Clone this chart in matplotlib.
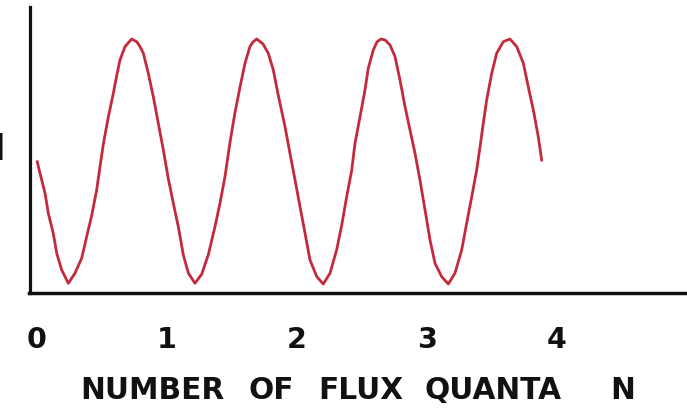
import matplotlib
matplotlib.use("Agg")
import matplotlib.pyplot as plt

# Critical current versus applied flux (in flux quanta), arbitrary current units
flux_n = [
    0.002, 0.023, 0.062, 0.087, 0.125, 0.152, 0.190, 0.241, 0.292, 0.344,
    0.382, 0.421, 0.459, 0.485, 0.510, 0.548, 0.587, 0.613, 0.638, 0.677, 0.728,
    0.769, 0.792, 0.818, 0.856, 0.895, 0.933, 0.972, 1.010, 1.048, 1.087, 1.125,
    1.164, 1.215, 1.267, 1.318, 1.369, 1.408, 1.446, 1.485, 1.523, 1.562, 1.600,
    1.638, 1.662, 1.690, 1.738, 1.779, 1.818, 1.856, 1.908, 1.946, 1.985, 2.023,
    2.062, 2.100, 2.152, 2.202, 2.254, 2.305, 2.344, 2.382, 2.421, 2.446, 2.485,
    2.523, 2.548, 2.587, 2.615, 2.646, 2.677, 2.715, 2.754, 2.792, 2.831, 2.869,
    2.908, 2.946, 2.985, 3.023, 3.062, 3.113, 3.164, 3.215, 3.267, 3.305, 3.344,
    3.382, 3.408, 3.433, 3.459, 3.498, 3.536, 3.587, 3.638, 3.690, 3.741, 3.779,
    3.818, 3.856, 3.882,
]
current = [
    0.499, 0.452, 0.370, 0.289, 0.207, 0.125, 0.057, 0.003, 0.044, 0.106,
    0.193, 0.280, 0.384, 0.480, 0.570, 0.680, 0.778, 0.850, 0.914, 0.969, 1.000,
    0.988, 0.969, 0.942, 0.860, 0.764, 0.656, 0.547, 0.430, 0.331, 0.234, 0.120,
    0.045, 0.003, 0.040, 0.120, 0.234, 0.331, 0.438, 0.580, 0.700, 0.805, 0.901,
    0.969, 0.988, 1.000, 0.980, 0.942, 0.873, 0.770, 0.642, 0.533, 0.424, 0.316,
    0.207, 0.098, 0.030, 0.000, 0.044, 0.139, 0.240, 0.356, 0.465, 0.574, 0.683,
    0.792, 0.880, 0.955, 0.988, 1.000, 0.996, 0.976, 0.928, 0.833, 0.724, 0.629,
    0.533, 0.424, 0.302, 0.180, 0.084, 0.030, 0.000, 0.044, 0.139, 0.248, 0.356,
    0.465, 0.560, 0.656, 0.751, 0.860, 0.942, 0.989, 1.000, 0.969, 0.901, 0.805,
    0.710, 0.601, 0.506,
]

tick_values = [0, 1, 2, 3, 4]
tick_labels = ["0", "1", "2", "3", "4"]
xlabel_words = ["NUMBER", "OF", "FLUX", "QUANTA", "N"]
xlabel_word_x = [80, 249, 318, 425, 610]   # left edges, pixels
ylabel_text = "I"

W, H = 687, 412
fig = plt.figure(figsize=(W / 100, H / 100), dpi=100)
fig.patch.set_facecolor("white")

ax = fig.add_axes([29.5 / W, (H - 293) / H, 1 - 29.5 / W, (293 - 7) / H])
ax.plot(flux_n, current, color="#c42a3c", lw=2.0, solid_joinstyle="round")

ax.set_xlim(-0.0577, 5.0)
ax.set_ylim(-0.0367, 1.1306)

for side in ("top", "right"):
    ax.spines[side].set_visible(False)
ax.spines["left"].set_linewidth(2.3)
ax.spines["bottom"].set_linewidth(2.5)
ax.spines["left"].set_color("#111111")
ax.spines["bottom"].set_color("#111111")

ax.set_yticks([])
ax.set_xticks(tick_values)
ax.set_xticklabels(tick_labels, fontsize=20.5, fontweight="bold",
                   family="DejaVu Sans", color="#111111")
ax.tick_params(axis="x", length=0, pad=23.5)

for word, xpix in zip(xlabel_words, xlabel_word_x):
    fig.text(xpix / W, 13 / H, word, ha="left", va="baseline",
             fontsize=21.3, fontweight="bold", family="DejaVu Sans",
             color="#111111")

fig.text(-1.5 / W, (H - 160) / H, ylabel_text, ha="center", va="baseline",
         fontsize=27, fontweight="bold", family="DejaVu Sans", color="#111111")

fig.savefig("out.png", dpi=100, facecolor="white")
